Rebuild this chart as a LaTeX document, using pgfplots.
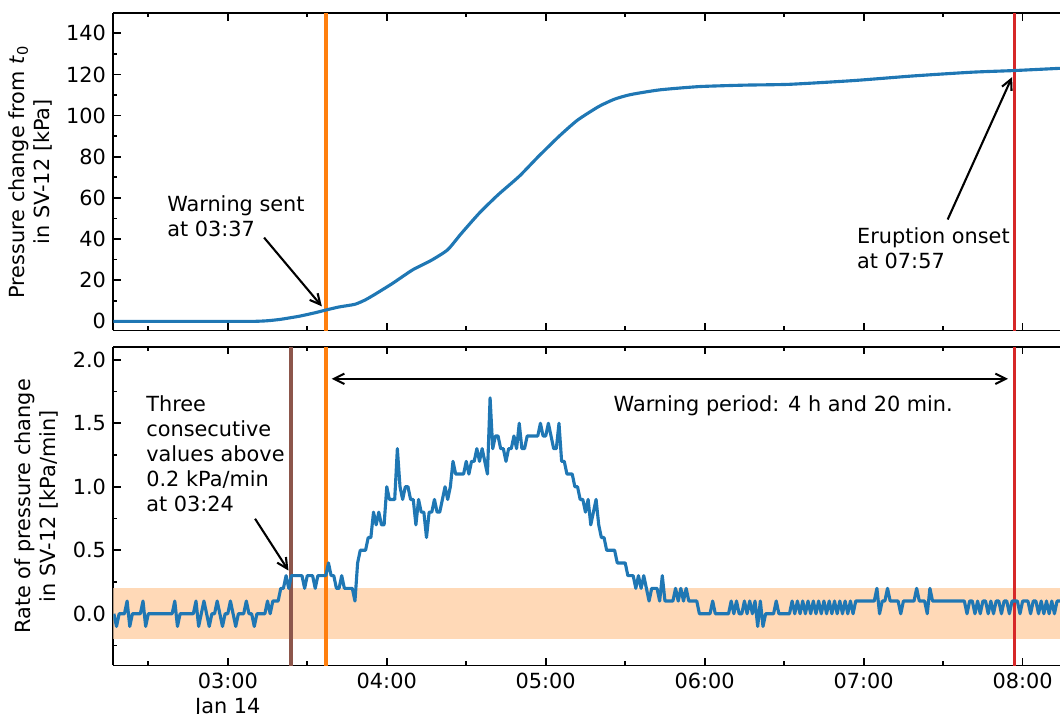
\documentclass[border=0pt]{standalone}
\usepackage{fontspec}
\setmainfont{DejaVu Sans}
\usepackage{pgfplots}
\pgfplotsset{compat=1.18}
\usetikzlibrary{arrows.meta}

\definecolor{mplblue}{HTML}{1F77B4}
\definecolor{mplorange}{HTML}{FF7F0E}
\definecolor{mplred}{HTML}{D62728}
\definecolor{mplbrown}{HTML}{8C564B}
\definecolor{band}{HTML}{FFD9B7}

\begin{document}
\begin{tikzpicture}
\pgfplotsset{
  every axis/.append style={
    width=454.4pt, scale only axis,
    xmin=136.8, xmax=494.1,
    axis y line*=left,
    tick align=inside, xtick pos=both, ytick pos=left,
    axis line style={line width=0.8pt, black},
    every tick/.style={black, line width=0.8pt},
    major tick length=3.5pt, minor tick length=2pt,
    xtick={180,240,...,480}, minor xtick={150,210,...,450},
    /pgf/number format/assume math mode=true,
    ylabel style={align=center},
    every axis plot/.append style={line join=round},
  }
}
% time axis in minutes after midnight, Jan 14
\begin{axis}[name=top, height=152.2pt,
    ymin=-4.4, ymax=149.7,
    ytick={0,20,...,140}, minor ytick={10,30,...,130},
    xticklabels={},
    ylabel={Pressure change from \textit{t}\textsubscript{0}\\in SV-12 [kPa]}]
\coordinate (TL) at (rel axis cs:0,1);
\addplot[mplorange, line width=2pt] coordinates {(217,-10) (217,200)};
\addplot[mplred, line width=1.5pt] coordinates {(477,-10) (477,200)};
\addplot[mplblue, line width=1.5pt, smooth, tension=0.35] coordinates {
 (136.5,0) (150,0) (165,0) (180,0) (190,0) (195,0.3) (200,1.0) (207,2.5)
 (213,4.2) (217,5.5) (222,7.0) (228,8.3) (232,10.5) (236,13.5) (242,18.3)
 (246,21.8) (250,25.2) (257,29.8) (263,34.8) (268,42.5) (275,52.7) (282,61.5)
 (290,70.5) (297,79.8) (305,89.9) (312,97.8) (320,104.4) (326,108) (332,110.2)
 (343,112.5) (358,114.1) (375,114.8) (392,115.2) (416,117) (439,119.3)
 (461,121.1) (477,121.9) (494.5,123)
};
\node[anchor=north west, inner sep=0pt, align=left] at (axis cs:157,61.5) {Warning sent\\at 03:37};
\draw[-{Straight Barb[length=5pt,width=5pt]}, line width=1pt] (axis cs:193.7,40.7) -- (axis cs:215.5,7.3);
\node[anchor=north west, inner sep=0pt, align=left] at (axis cs:417.4,45.8) {Eruption onset\\at 07:57};
\draw[-{Straight Barb[length=5pt,width=5pt]}, line width=1pt] (axis cs:451.7,49.5) -- (axis cs:476,118.7);
\end{axis}

\begin{axis}[at={(top.south west)}, anchor=north west, yshift=-8pt,
    height=152.8pt,
    ymin=-0.407, ymax=2.1,
    ytick={0,0.5,...,2.0}, minor ytick={-0.25,0.25,...,1.75},
    yticklabel style={/pgf/number format/.cd, fixed, fixed zerofill, precision=1},
    xticklabels={{03:00\\Jan 14},04:00,05:00,06:00,07:00,08:00},
    xticklabel style={align=center},
    ylabel={Rate of pressure change\\in SV-12 [kPa/min]}]
\coordinate (BR) at (rel axis cs:1,0);
\addplot[draw=none, fill=band] coordinates {(130,-0.2) (500,-0.2) (500,0.2) (130,0.2)} -- cycle;
\addplot[mplbrown, line width=2pt] coordinates {(204,-1) (204,3)};
\addplot[mplorange, line width=2pt] coordinates {(217,-1) (217,3)};
\addplot[mplred, line width=1.5pt] coordinates {(477,-1) (477,3)};
\addplot[mplblue, line width=1.5pt] coordinates {
 (137,0) (138,-0.1) (139,0) (140,0) (141,0) (142,0.1) (143,-0.1) (144,0) (145,0) (146,0)
 (147,0) (148,0.1) (149,-0.1) (150,0) (151,0) (152,0) (153,0) (154,0) (155,0) (156,0)
 (157,0) (158,0) (159,0) (160,0.1) (161,-0.1) (162,0) (163,0) (164,0) (165,0) (166,0)
 (167,0) (168,0.1) (169,-0.1) (170,0) (171,0.1) (172,0) (173,-0.1) (174,0) (175,0) (176,0.1)
 (177,0) (178,-0.1) (179,0) (180,0) (181,0.1) (182,0) (183,-0.1) (184,0) (185,0) (186,0)
 (187,0.1) (188,0) (189,0) (190,-0.1) (191,0) (192,0) (193,0) (194,0) (195,0.1) (196,0)
 (197,0.1) (198,0.1) (199,0.1) (200,0.2) (201,0.2) (202,0.3) (203,0.2) (204,0.3) (205,0.3) (206,0.3)
 (207,0.3) (208,0.3) (209,0.2) (210,0.3) (211,0.3) (212,0.3) (213,0.2) (214,0.3) (215,0.3) (216,0.3)
 (217,0.3) (218,0.4) (219,0.3) (220,0.3) (221,0.2) (222,0.2) (223,0.3) (224,0.2) (225,0.2) (226,0.2)
 (227,0.2) (228,0.1) (229,0.4) (230,0.5) (231,0.5) (232,0.5) (233,0.6) (234,0.6) (235,0.8) (236,0.7)
 (237,0.8) (238,0.7) (239,0.7) (240,1.0) (241,0.9) (242,0.9) (243,0.9) (244,1.3) (245,1.0) (246,0.9)
 (247,1.0) (248,1.0) (249,0.9) (250,0.9) (251,0.7) (252,0.9) (253,0.8) (254,0.8) (255,0.6) (256,0.8)
 (257,0.8) (258,0.9) (259,0.8) (260,0.8) (261,0.9) (262,1.0) (263,0.9) (264,1.0) (265,1.2) (266,1.1)
 (267,1.1) (268,1.1) (269,1.1) (270,1.2) (271,1.1) (272,1.2) (273,1.2) (274,1.3) (275,1.2) (276,1.3)
 (277,1.2) (278,1.1) (279,1.7) (280,1.3) (281,1.4) (282,1.4) (283,1.3) (284,1.3) (285,1.2) (286,1.3)
 (287,1.3) (288,1.4) (289,1.3) (290,1.5) (291,1.3) (292,1.3) (293,1.4) (294,1.4) (295,1.4) (296,1.4)
 (297,1.4) (298,1.5) (299,1.4) (300,1.4) (301,1.5) (302,1.4) (303,1.3) (304,1.3) (305,1.5) (306,1.2)
 (307,1.2) (308,1.1) (309,1.1) (310,1.1) (311,1.0) (312,1.0) (313,0.9) (314,0.9) (315,0.8) (316,0.9)
 (317,0.7) (318,0.8) (319,0.9) (320,0.7) (321,0.6) (322,0.6) (323,0.5) (324,0.5) (325,0.5) (326,0.5)
 (327,0.4) (328,0.4) (329,0.4) (330,0.4) (331,0.3) (332,0.3) (333,0.3) (334,0.2) (335,0.3) (336,0.2)
 (337,0.3) (338,0.2) (339,0.1) (340,0.2) (341,0.2) (342,0.2) (343,0.1) (344,0.3) (345,0.1) (346,0.1)
 (347,0.1) (348,0.1) (349,0.2) (350,0.1) (351,0.2) (352,0.1) (353,0.2) (354,0.1) (355,0.1) (356,0.1)
 (357,0.1) (358,0) (359,0) (360,0) (361,0) (362,0) (363,0.1) (364,0) (365,0) (366,0)
 (367,0) (368,0) (369,0) (370,0.1) (371,0) (372,0.1) (373,0) (374,0) (375,0.1) (376,0)
 (377,0.1) (378,0) (379,0.1) (380,-0.1) (381,0.1) (382,-0.1) (383,0) (384,0) (385,0) (386,0)
 (387,0.1) (388,0) (389,0) (390,0) (391,0) (392,0) (393,0.1) (394,0) (395,0.1) (396,0)
 (397,0.1) (398,0) (399,0.1) (400,0) (401,0.1) (402,0) (403,0.1) (404,0) (405,0.1) (406,0)
 (407,0.1) (408,0) (409,0.1) (410,0) (411,0.1) (412,0) (413,0.1) (414,0) (415,0.1) (416,0)
 (417,0.1) (418,0.1) (419,0.1) (420,0.1) (421,0.1) (422,0.1) (423,0.1) (424,0.1) (425,0.2) (426,0)
 (427,0.1) (428,0.1) (429,0.2) (430,0.1) (431,0.1) (432,0.1) (433,0.1) (434,0) (435,0.1) (436,0.1)
 (437,0.1) (438,0.1) (439,0.1) (440,0.2) (441,0.1) (442,0.1) (443,0.1) (444,0) (445,0.2) (446,0.1)
 (447,0.1) (448,0.1) (449,0.1) (450,0.1) (451,0.1) (452,0.1) (453,0.1) (454,0.1) (455,0.1) (456,0.1)
 (457,0.1) (458,0.1) (459,0) (460,0.1) (461,0.1) (462,0) (463,0.1) (464,0) (465,0.1) (466,0.1)
 (467,0) (468,0.1) (469,0) (470,0.1) (471,0.1) (472,0) (473,0.1) (474,0.1) (475,0) (476,0.1)
 (477,0.1) (478,0.1) (479,0) (480,0.1) (481,0.1) (482,0.1) (483,0) (484,0.1) (485,0.1) (486,0)
 (487,0.1) (488,0) (489,0.1) (490,0) (491,0.1) (492,0) (493,0.1) (494,0.1) (495,0.1)
};
\node[anchor=north west, inner sep=0pt, align=left] at (axis cs:149.1,1.72) {Three\\consecutive\\values above\\0.2 kPa/min\\at 03:24};
\draw[-{Straight Barb[length=5pt,width=5pt]}, line width=1pt] (axis cs:190.3,0.748) -- (axis cs:202.9,0.34);
\draw[{Straight Barb[length=5pt,width=5pt]}-{Straight Barb[length=5pt,width=5pt]}, line width=1pt] (axis cs:219.2,1.85) -- (axis cs:474.5,1.85);
\node[anchor=base west, inner sep=0pt] at (axis cs:325.5,1.595) {Warning period: 4 h and 20 min.};
\end{axis}
\pgfresetboundingbox
\path ([xshift=-54.4pt, yshift=6.4pt]TL) rectangle ([yshift=-23pt]BR);
\end{tikzpicture}
\end{document}
